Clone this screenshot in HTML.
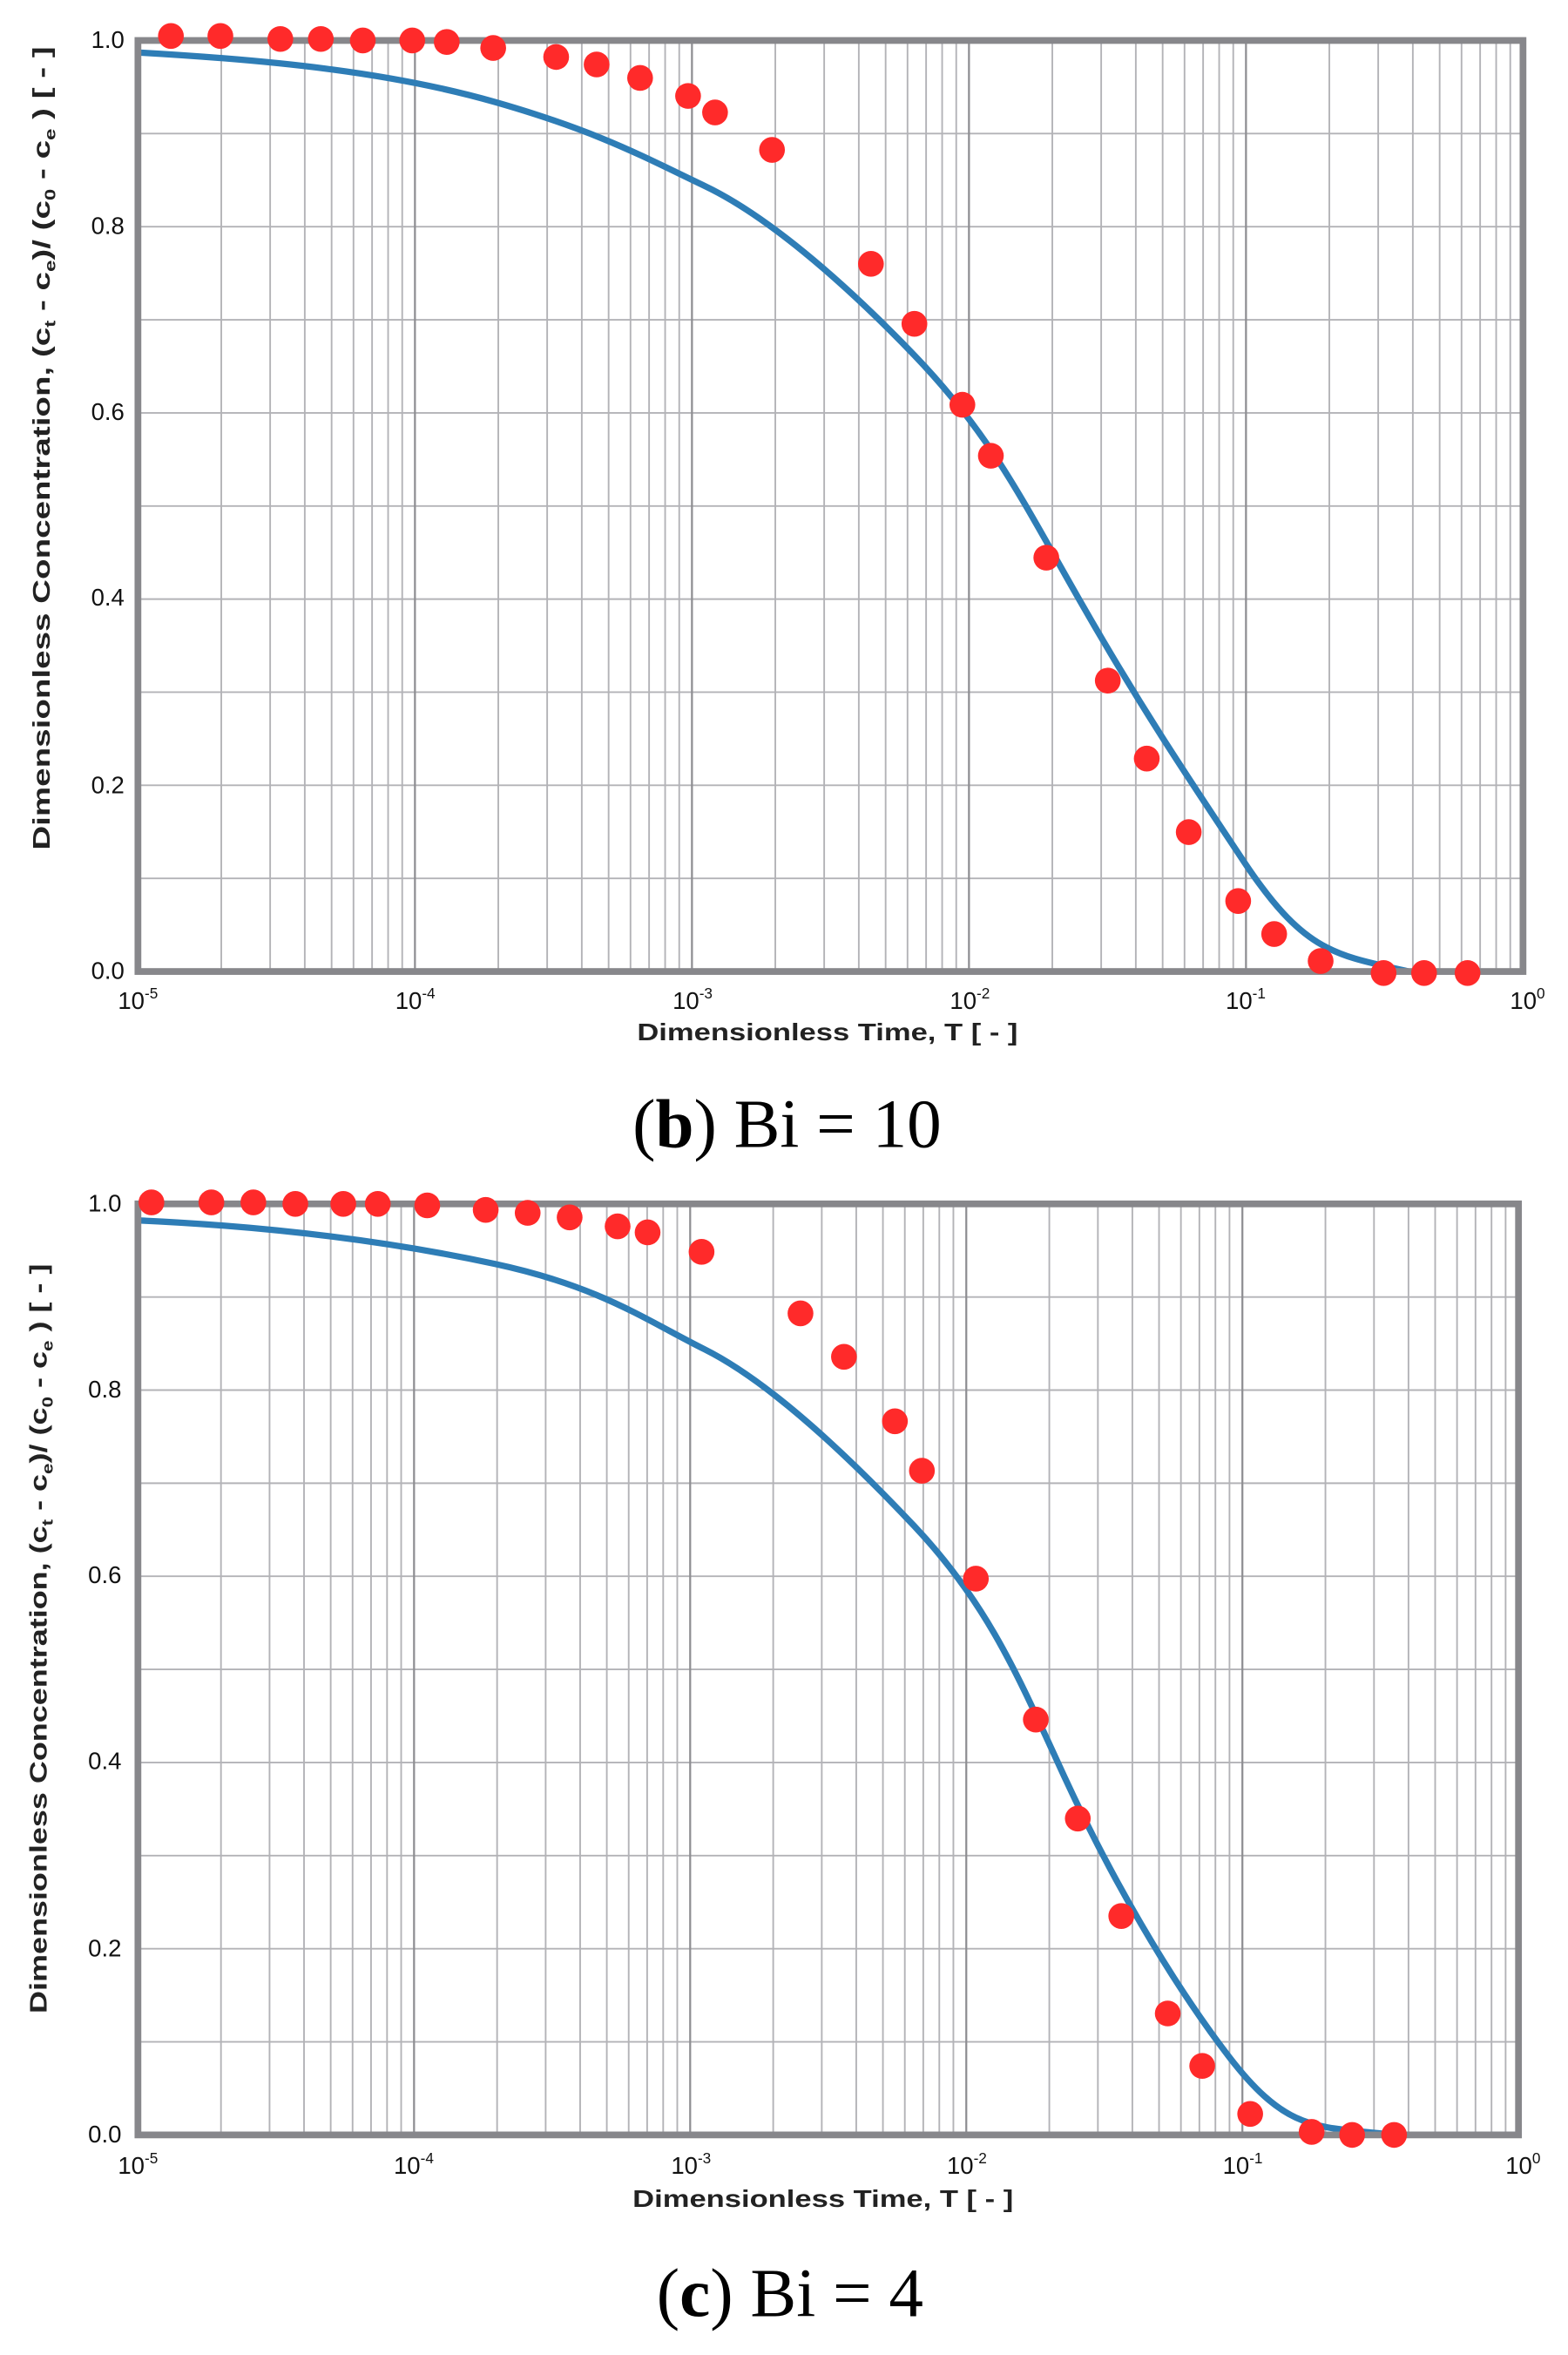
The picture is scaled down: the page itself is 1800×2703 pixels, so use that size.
<!DOCTYPE html>
<html><head><meta charset="utf-8"><style>html,body{margin:0;padding:0;background:#fff;}svg{display:block}</style></head>
<body>
<svg xmlns="http://www.w3.org/2000/svg" width="1800" height="2703" viewBox="0 0 1046 1570.8">
<g id="c1">
  <g stroke="#b3b3b7" stroke-width="1.1" fill="none">
    <path d="M92,89.1H1016M92,151.2H1016M92,213.3H1016M92,275.4H1016M92,337.5H1016M92,399.6H1016M92,461.7H1016M92,523.8H1016M92,585.9H1016"/>
    <path d="
M147.6,27V648M180.2,27V648M203.3,27V648M221.2,27V648M235.8,27V648M248.2,27V648M258.9,27V648M268.3,27V648
M332.4,27V648M365,27V648M388.1,27V648M406,27V648M420.6,27V648M433,27V648M443.7,27V648M453.1,27V648
M517.2,27V648M549.8,27V648M572.9,27V648M590.8,27V648M605.4,27V648M617.8,27V648M628.5,27V648M637.9,27V648
M702,27V648M734.6,27V648M757.7,27V648M775.6,27V648M790.2,27V648M802.6,27V648M813.3,27V648M822.7,27V648
M886.8,27V648M919.4,27V648M942.5,27V648M960.4,27V648M975,27V648M987.4,27V648M998.1,27V648M1007.5,27V648"/>
  </g>
  <path d="M276.8,27V648M461.6,27V648M646.4,27V648M831.2,27V648" stroke="#8e8e92" stroke-width="1.3"/>
  <path fill="none" stroke="#2e7db6" stroke-width="4.2" stroke-linejoin="round" stroke-linecap="round" d="M92,35 C180,40 260,48 330,68 S430,105 470,124 S560,185 610,237 S680,330 720,400 S790,515 830,575 S890,637 940,648 L1016,648"/>
  <rect x="92" y="27" width="924" height="621" fill="none" stroke="#87878b" stroke-width="4.5"/>
  <g fill="#ff2a2a">
    <circle cx="114" cy="24" r="8.6"/><circle cx="147" cy="24" r="8.6"/><circle cx="187" cy="26" r="8.6"/><circle cx="214" cy="26" r="8.6"/><circle cx="242" cy="27" r="8.6"/><circle cx="275" cy="27" r="8.6"/><circle cx="298" cy="28" r="8.6"/><circle cx="329" cy="32" r="8.6"/><circle cx="371" cy="38" r="8.6"/><circle cx="398" cy="43" r="8.6"/><circle cx="427" cy="52" r="8.6"/><circle cx="459" cy="64" r="8.6"/><circle cx="477" cy="75" r="8.6"/><circle cx="515" cy="100" r="8.6"/><circle cx="581" cy="176" r="8.6"/><circle cx="610" cy="216" r="8.6"/><circle cx="642" cy="270" r="8.6"/><circle cx="661" cy="304" r="8.6"/><circle cx="698" cy="372" r="8.6"/><circle cx="739" cy="454" r="8.6"/><circle cx="765" cy="506" r="8.6"/><circle cx="793" cy="555" r="8.6"/><circle cx="826" cy="601" r="8.6"/><circle cx="850" cy="623" r="8.6"/><circle cx="881" cy="641" r="8.6"/><circle cx="923" cy="649" r="8.6"/><circle cx="950" cy="649" r="8.6"/><circle cx="979" cy="649" r="8.6"/>
  </g>
  <g font-family="Liberation Sans, sans-serif" font-size="16" fill="#111" text-anchor="end">
    <text x="83" y="32">1.0</text><text x="83" y="156">0.8</text><text x="83" y="280">0.6</text><text x="83" y="404">0.4</text><text x="83" y="529">0.2</text><text x="83" y="653">0.0</text>
  </g>
  <g font-family="Liberation Sans, sans-serif" font-size="16" fill="#111" text-anchor="middle">
    <text x="92" y="673">10<tspan font-size="10" dy="-7">-5</tspan></text>
    <text x="277" y="673">10<tspan font-size="10" dy="-7">-4</tspan></text>
    <text x="462" y="673">10<tspan font-size="10" dy="-7">-3</tspan></text>
    <text x="647" y="673">10<tspan font-size="10" dy="-7">-2</tspan></text>
    <text x="831" y="673">10<tspan font-size="10" dy="-7">-1</tspan></text>
    <text x="1019" y="673">10<tspan font-size="10" dy="-7">0</tspan></text>
  </g>
  <text x="552" y="694" font-family="Liberation Sans, sans-serif" font-size="16" font-weight="bold" fill="#222" text-anchor="middle" textLength="254" lengthAdjust="spacingAndGlyphs">Dimensionless Time, T  [ - ]</text>
  <text transform="translate(33,299) rotate(-90)" font-family="Liberation Sans, sans-serif" font-size="16" font-weight="bold" fill="#222" text-anchor="middle" textLength="536" lengthAdjust="spacingAndGlyphs">Dimensionless Concentration,  (c<tspan font-size="10" dy="4">t</tspan><tspan dy="-4"> - c</tspan><tspan font-size="10" dy="4">e</tspan><tspan dy="-4">)/ (c</tspan><tspan font-size="10" dy="4">0</tspan><tspan dy="-4"> - c</tspan><tspan font-size="10" dy="4">e</tspan><tspan dy="-4"> ) [ - ]</tspan></text>
  <text x="525" y="765" font-family="Liberation Serif, serif" font-size="46" fill="#000" text-anchor="middle">(<tspan font-weight="bold">b</tspan>) Bi = 10</text>
</g>
<g id="c2">
  <g stroke="#b3b3b7" stroke-width="1.1" fill="none">
    <path d="M92,865.1H1013M92,927.2H1013M92,989.3H1013M92,1051.4H1013M92,1113.5H1013M92,1175.6H1013M92,1237.7H1013M92,1299.8H1013M92,1361.9H1013"/>
    <path d="
M147.4,803V1424M179.8,803V1424M202.8,803V1424M220.6,803V1424M235.2,803V1424M247.5,803V1424M258.2,803V1424M267.6,803V1424
M331.6,803V1424M364,803V1424M387,803V1424M404.8,803V1424M419.4,803V1424M431.7,803V1424M442.4,803V1424M451.8,803V1424
M515.8,803V1424M548.2,803V1424M571.2,803V1424M589,803V1424M603.6,803V1424M615.9,803V1424M626.6,803V1424M636,803V1424
M700,803V1424M732.4,803V1424M755.4,803V1424M773.2,803V1424M787.8,803V1424M800.1,803V1424M810.8,803V1424M820.2,803V1424
M884.2,803V1424M916.6,803V1424M939.6,803V1424M957.4,803V1424M972,803V1424M984.3,803V1424M995,803V1424M1004.4,803V1424"/>
  </g>
  <path d="M276.2,803V1424M460.4,803V1424M644.6,803V1424M828.8,803V1424" stroke="#8e8e92" stroke-width="1.3"/>
  <path fill="none" stroke="#2e7db6" stroke-width="4.2" stroke-linejoin="round" stroke-linecap="round" d="M92,814 C180,818 260,828 330,843 S430,880 470,900 S560,965 610,1018 S680,1120 710,1185 S780,1320 820,1372 S880,1418 930,1424 L1013,1424"/>
  <rect x="92" y="803" width="921" height="621" fill="none" stroke="#87878b" stroke-width="4.5"/>
  <g fill="#ff2a2a">
    <circle cx="101" cy="802" r="8.6"/><circle cx="141" cy="802" r="8.6"/><circle cx="169" cy="802" r="8.6"/><circle cx="197" cy="803" r="8.6"/><circle cx="229" cy="803" r="8.6"/><circle cx="252" cy="803" r="8.6"/><circle cx="285" cy="804" r="8.6"/><circle cx="324" cy="807" r="8.6"/><circle cx="352" cy="809" r="8.6"/><circle cx="380" cy="812" r="8.6"/><circle cx="412" cy="818" r="8.6"/><circle cx="432" cy="822" r="8.6"/><circle cx="468" cy="835" r="8.6"/><circle cx="534" cy="876" r="8.6"/><circle cx="563" cy="905" r="8.6"/><circle cx="597" cy="948" r="8.6"/><circle cx="615" cy="981" r="8.6"/><circle cx="651" cy="1053" r="8.6"/><circle cx="691" cy="1147" r="8.6"/><circle cx="719" cy="1213" r="8.6"/><circle cx="748" cy="1278" r="8.6"/><circle cx="779" cy="1343" r="8.6"/><circle cx="802" cy="1378" r="8.6"/><circle cx="834" cy="1410" r="8.6"/><circle cx="875" cy="1422" r="8.6"/><circle cx="902" cy="1424" r="8.6"/><circle cx="930" cy="1424" r="8.6"/>
  </g>
  <g font-family="Liberation Sans, sans-serif" font-size="16" fill="#111" text-anchor="end">
    <text x="81" y="808">1.0</text><text x="81" y="932">0.8</text><text x="81" y="1056">0.6</text><text x="81" y="1180">0.4</text><text x="81" y="1305">0.2</text><text x="81" y="1429">0.0</text>
  </g>
  <g font-family="Liberation Sans, sans-serif" font-size="16" fill="#111" text-anchor="middle">
    <text x="92" y="1450">10<tspan font-size="10" dy="-7">-5</tspan></text>
    <text x="276" y="1450">10<tspan font-size="10" dy="-7">-4</tspan></text>
    <text x="461" y="1450">10<tspan font-size="10" dy="-7">-3</tspan></text>
    <text x="645" y="1450">10<tspan font-size="10" dy="-7">-2</tspan></text>
    <text x="829" y="1450">10<tspan font-size="10" dy="-7">-1</tspan></text>
    <text x="1016" y="1450">10<tspan font-size="10" dy="-7">0</tspan></text>
  </g>
  <text x="549" y="1472" font-family="Liberation Sans, sans-serif" font-size="16" font-weight="bold" fill="#222" text-anchor="middle" textLength="254" lengthAdjust="spacingAndGlyphs">Dimensionless Time, T  [ - ]</text>
  <text transform="translate(31,1093) rotate(-90)" font-family="Liberation Sans, sans-serif" font-size="16" font-weight="bold" fill="#222" text-anchor="middle" textLength="500" lengthAdjust="spacingAndGlyphs">Dimensionless Concentration,  (c<tspan font-size="10" dy="4">t</tspan><tspan dy="-4"> - c</tspan><tspan font-size="10" dy="4">e</tspan><tspan dy="-4">)/ (c</tspan><tspan font-size="10" dy="4">0</tspan><tspan dy="-4"> - c</tspan><tspan font-size="10" dy="4">e</tspan><tspan dy="-4"> ) [ - ]</tspan></text>
  <text x="527" y="1545" font-family="Liberation Serif, serif" font-size="46" fill="#000" text-anchor="middle">(<tspan font-weight="bold">c</tspan>) Bi = 4</text>
</g>
</svg>
</body></html>
